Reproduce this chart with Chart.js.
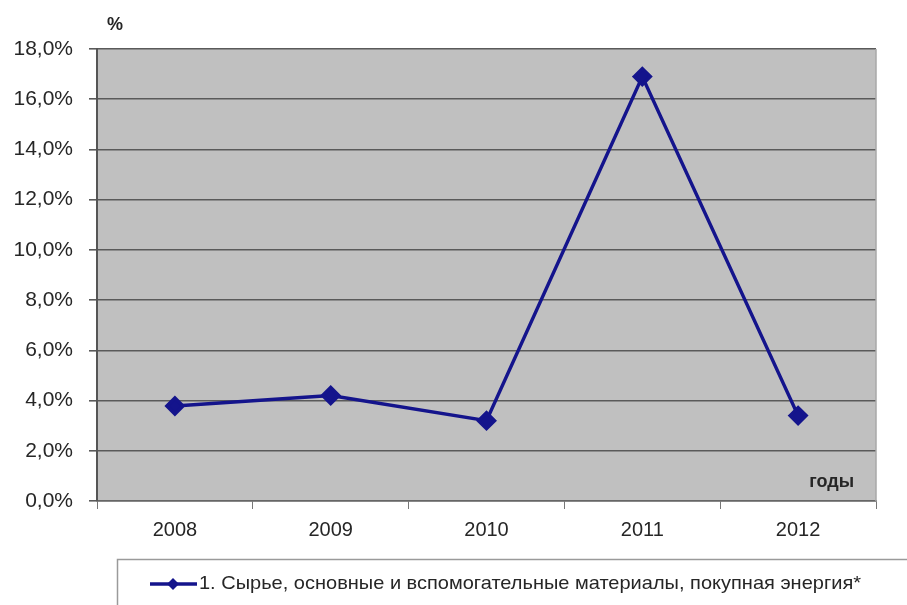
<!DOCTYPE html>
<html>
<head>
<meta charset="utf-8">
<script src="https://cdn.jsdelivr.net/npm/chart.js@4"></script>
<style>
  html, body { margin: 0; padding: 0; background: #fff; }
  #wrap { width: 907px; height: 605px; }
</style>
</head>
<body>
<div id="wrap"><canvas id="myChart" width="907" height="605"></canvas></div>
<script>
//
// Data
//

var years = ['2008', '2009', '2010', '2011', '2012'];
var shareValues = [3.78, 4.2, 3.2, 16.9, 3.4];
var seriesLabel = '1. Сырье, основные и вспомогательные материалы, покупная энергия*';
var yAxisUnit = '%';
var xAxisUnit = 'годы';

var lineColor = '#14148c';
var textColor = '#262626';
var fontFamily = '"Liberation Sans", Arial, sans-serif';


/**
 * Format y ticks like 4,0%
 */
function formatPercent(value) {
    return value.toFixed(1).replace('.', ',') + '%';
};


/**
 * Grey plot background, axis captions and the legend box
 */
var plotDecor = {
    id: 'plotDecor',
    beforeDraw: function (chart) {
        var ctx = chart.ctx;
        var a = chart.chartArea;
        ctx.save();
        ctx.fillStyle = '#c0c0c0';
        ctx.fillRect(a.left, a.top, a.right - a.left, a.bottom - a.top);
        ctx.restore();
    },
    afterDatasetsDraw: function (chart) {
        var ctx = chart.ctx;
        var a = chart.chartArea;
        ctx.save();

        // right edge of plot
        ctx.strokeStyle = '#a8a8a8';
        ctx.lineWidth = 1.5;
        ctx.beginPath();
        ctx.moveTo(a.right, a.top);
        ctx.lineTo(a.right, a.bottom);
        ctx.stroke();

        ctx.fillStyle = textColor;
        ctx.font = 'bold 18px ' + fontFamily;
        ctx.textBaseline = 'middle';
        ctx.textAlign = 'left';
        ctx.fillText(yAxisUnit, 107, 25);
        ctx.textAlign = 'right';
        ctx.fillText(xAxisUnit, a.right - 22, a.bottom - 19);
        ctx.restore();
    },
    afterDraw: function (chart) {
        // legend box at the bottom, running off the right edge
        var ctx = chart.ctx;
        ctx.save();
        ctx.strokeStyle = '#9a9a9a';
        ctx.lineWidth = 1.5;
        ctx.strokeRect(117.5, 559.5, 820, 80);

        var y = 584;
        ctx.strokeStyle = lineColor;
        ctx.lineWidth = 3.5;
        ctx.beginPath();
        ctx.moveTo(150, y);
        ctx.lineTo(197, y);
        ctx.stroke();

        ctx.fillStyle = lineColor;
        ctx.beginPath();
        ctx.moveTo(173, y - 6);
        ctx.lineTo(179, y);
        ctx.lineTo(173, y + 6);
        ctx.lineTo(167, y);
        ctx.closePath();
        ctx.fill();

        ctx.fillStyle = textColor;
        ctx.font = '19px ' + fontFamily;
        ctx.textAlign = 'left';
        ctx.textBaseline = 'middle';
        var w = ctx.measureText(seriesLabel).width;
        var target = 662;
        ctx.translate(199, y);
        ctx.scale(target / w, 1);
        ctx.fillText(seriesLabel, 0, 0);
        ctx.restore();
    }
};


//
// Chart
//

var ctx = document.querySelector('#myChart').getContext('2d');
var chart = new Chart(ctx, {
    type: 'line',
    data: {
        labels: years,
        datasets: [{
            label: seriesLabel,
            data: shareValues,
            borderColor: lineColor,
            backgroundColor: lineColor,
            borderWidth: 3.5,
            pointStyle: 'rectRot',
            pointRadius: 8,
            pointHoverRadius: 8,
            tension: 0
        }]
    },
    options: {
        responsive: false,
        animation: false,
        layout: {
            padding: { left: 0, top: 49, right: 31, bottom: 60 }
        },
        plugins: {
            legend: { display: false },
            tooltip: { enabled: false }
        },
        scales: {
            x: {
                offset: true,
                grid: {
                    offset: true,
                    drawOnChartArea: false,
                    drawTicks: true,
                    tickLength: 8,
                    color: '#777'
                },
                border: { color: '#666', width: 1.5 },
                ticks: {
                    color: textColor,
                    padding: 9,
                    font: { family: fontFamily, size: 20 }
                },
                afterFit: function (scale) {
                    scale.height = 44;
                }
            },
            y: {
                min: 0,
                max: 18,
                grid: {
                    color: '#5a5a5a',
                    lineWidth: 1.6,
                    tickLength: 8
                },
                border: { color: '#555', width: 2 },
                ticks: {
                    stepSize: 2,
                    color: textColor,
                    padding: 16,
                    font: { family: fontFamily, size: 21 },
                    callback: function (value) {
                        return formatPercent(value);
                    }
                },
                afterFit: function (scale) {
                    scale.width = 97;
                }
            }
        }
    },
    plugins: [plotDecor]
});
</script>
</body>
</html>
